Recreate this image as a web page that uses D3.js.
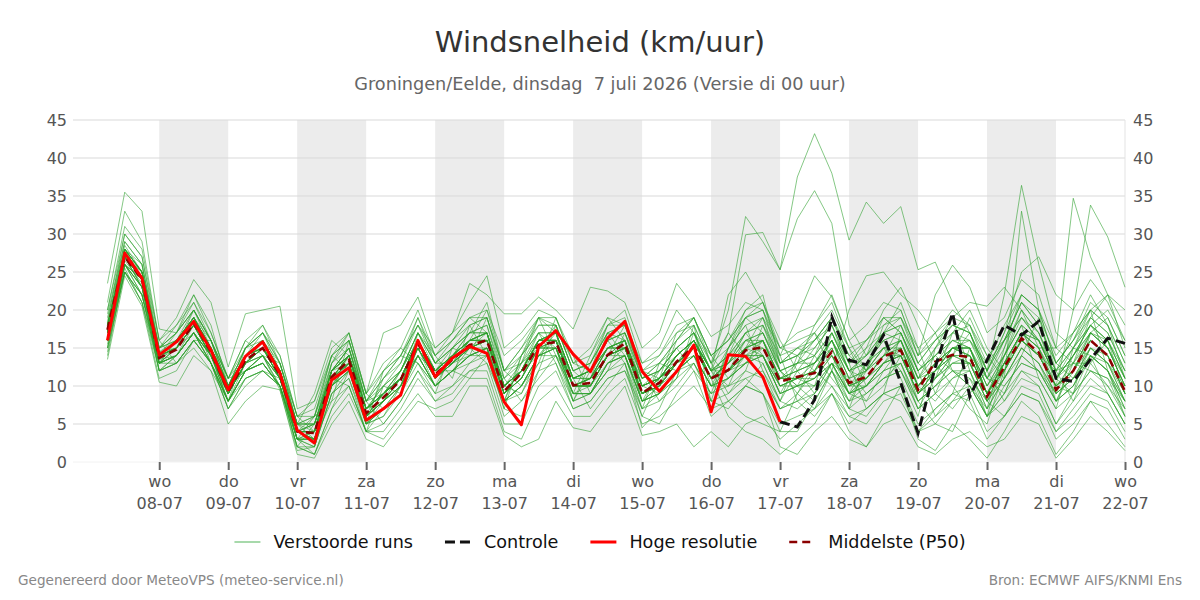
<!DOCTYPE html>
<html><head><meta charset="utf-8">
<script src="https://cdn.jsdelivr.net/npm/d3@7"></script>
<style>
body{margin:0;background:#fff;}
svg{display:block;font-family:"DejaVu Sans",sans-serif;}
</style>
</head><body>
<svg id="chart" width="1200" height="600"></svg>
<script>
// ---------- DATA ----------
// 6-hourly steps starting 07-07-2026 06:00 UTC (60 steps, last = 22-07 00:00)
const startTime = "2026-07-07T06:00:00Z";
const stepHours = 6;

// Perturbed ensemble members ("Verstoorde runs"), km/h
const members = [
 [19.5,29,26,14,16,20,15,10,14,16, 12,5,4,12,14,7,9,12,17,12, 14,17,18,10,12,16,17,11,12,16, 17,11,12,15,17,13,20,32.3,29,25.3, 37.5,43.2,38,29.2,34.2,31.4,33.6,25.3,26.3,21, 17,11,16,21,18,13,16,19,17,12],
 [18,28,25,14,15,19,15,9.5,13,15, 12,4,5,12,14,6,9,11,16,12, 14,16,17,9,12,16,16,10,11,15, 16,10,11,14,16,12,17,29.9,30.2,25.3, 32,35.7,31.4,18,14,17,16,10,13,15, 15,9,13,17,16,11,13,17,15,10],
 [16,26,23,13,15,18,14,9,13,14, 11,3,4,10,13,6,8,10,15,11, 13,15,15,9,11,15,15,10,10,14, 15,9,10,13,15,11,12,15,16,11, 12,13,16,12,13,15,16,11,15,17, 16,12,22,36.4,26,17,15,14,12,8],
 [17,27,24,14,15,18,15,9,14,15, 12,4,4,11,14,7,9,11,16,12, 14,16,16,10,12,16,16,10,11,14, 16,9,11,13,15,11,12,14,15,10, 11,12,15,10,12,14,15,10,12,15, 14,9,13,17,15,15,34.7,27,22,18],
 [15,25,22,12,13,16,13,8,12,13, 10,2,2,9,11,5,6,9,13,10, 12,13,14,8,9,13,14,8,9,12, 13,7,9,11,13,9,10,12,11,7, 8,6,9,5,7,9,8,4,6,8, 9,4,6,9,8,3,5,8,7,3],
 [21,33,29,16,18,22,17,11,16,18, 14,6,7,14,16,8,12,14,19,14, 16,19,20,12,14,19,18,12,13,18, 19,12,13,16,19,14,16,20,21,15, 17,18,22,16,18,21,20,14,17,19, 18,12,17,22,20,13,16,21,19,14],
 [17.5,27,24,13,15,18,14,9,13,15, 11,4,3,11,13,6,8,11,15,11, 13,15,16,9,11,15,16,10,10,14, 15,9,10,13,15,11,12,15,14,10, 11,11,14,9,11,13,14,9,11,14, 13,8,12,16,14,10,20,33.8,29.6,23],
 [14,25.5,21,11,12,16,13,7,11,12, 10,2,1,7,10,4,5,8,12,9, 10,12,13,6,8,12,13,7,8,11, 12,7,8,10,13,8,9,11,12,7, 8,9,12,8,9,11,12,7,9,11, 12,7,11,33,20,9,11,14,12,7],
 [23.5,35.5,33,17.5,17,21,16,11,15,17, 12,4,6,12,15,7,10,12,16,12, 15,17,17,10,12,16,17,11,12,15, 16,10,11,14,16,12,13,16,17,12, 13,14,17,12,14,16,17,12,14,16, 16,11,14,19,16,11,14,18,16,11],
 [13.5,24.5,20.5,10.5,10,14,12,5,8,10, 9.5,1,0.5,5,8,3,2,5,8,7, 8,11,11,4,3,8,10,6,6,9, 11,5,6,8,10,7,8,10,9,5, 6,7,9,6,7,9,10,5,7,9, 10,6,8,11,10,5,8,11,9,5],
 [16.5,28,25,14.5,16,19,15,10,14,16, 13,5,5,13,16,8,11,13,18,13, 15,18,19,11,14,18,18,12,13,17, 18,11,13,16,18,13,15,18,19,13, 14,15,18,13,14,17,18,12,15,18, 17,11,15,20,17,12,15,19,17,12],
 [20,31,28,16,19,24,21,12.5,19.5,20, 20.5,7,8,15,17,9,13,15,20,14, 16,18,19,12,15,18,18,12,13,17, 18,11,12,15,17,12,14,17,18,12, 13,14,17,12,13,16,17,12,14,16, 15,10,14,18,16,11,14,17,15,10],
 [18,27,24,15,17,20,16,10,14,16, 12,5,6,13,17,9,17,18,21.7,15, 17,21,24.5,15,17,20,19,13,15,19, 18,12,14,17,19,14,16,19,20,14, 15,16,19,14,16,18,19,13,16,18, 17,12,16,21,18,13,16,20,18,13],
 [17,26,23,13,14,17,14,9,13,14, 11,3,2,10,12,5,7,9,14,10, 12,14,15,8,10,14,15,9,9,13, 14,8,9,12,14,10,11,13,14,9, 10,10,13,9,10,12,13,8,10,12, 12,7,11,15,13,9,11,15,13,8],
 [17,27,24,13,15,18,14,9,14,15, 11,3,3,11,13,6,8,10,15,11, 13,16,16,9,11,15,16,10,10,14, 15,9,10,13,15,11,6,4,3,1, 3,5,9,4,2,6,10,3,1.5,5, 3,0.5,4,8,6,1,4,8,5,2],
 [17,28,24,14,15,18,15,9,13,15, 11,4,4,11,14,6,8,11,16,11, 14,15,16,10,12,16,16,10,11,14, 16,9,11,13,15,11,12,15,16,10, 11,12,15,10,11,14,15,10,12,14, 14,9,12,16,14,10,12,16,14,9],
 [18,27.5,25,14,16,19,15,10,14,15, 12,4,4,12,14,7,9,11,16,12, 14,16,17,10,12,17,17,11,12,16, 17,10,12,15,17,12,22,25,21,14, 19,24.5,21.7,16,12,18,20,14,22,25.9, 23,17,19,24,22,15,13,12,10,7],
 [16,26,22,13,14,17,13,8,12,14, 10,3,3,10,12,5,7,10,14,10, 12,14,15,8,10,14,15,9,10,13, 14,8,9,12,14,10,11,14,14,9, 10,11,13,9,10,13,14,9,11,13, 13,8,11,15,13,9,11,15,13,8],
 [15,25,22,12,13,16,13,7,11,12, 10,2,1,6,9,4,3,6,9,6, 6,10,10,3.5,2,3,8,4.5,4,7, 10,3.5,4,5,2,4,2,5,6,3, 5,7,10,6,5,8,9,4,7,9, 8,3,6,10,9,4,6,9,8,4],
 [17,27,24,14,16,19,15,10,15,17, 13,5,6,14,16,8,11,14,18,15, 17,23.5,22,19.5,19.5,21.7,20,17.5,23,22.5, 21,15,17,23.5,20.5,16.5,18,21,20,15, 16,17,20,15,16,19,19,14,16,18, 17,12,16,19,17,12,15,18,16,11],
 [16,27,23,13,14,17,14,8,12,14, 11,4,3,10,13,6,9,11,15,11, 13,15,16,9,12,16,16,10,11,15, 15,9,10,13,16,11,13,15,16,11, 12,13,16,10,11,14,16,11,13,15, 15,9,13,17,14,10,12,16,14,9],
 [18,28,25,14,16,19,15,10,14,16, 12,4,5,12,14,7,9,11,16,12, 14,16,17,10,12,16,16,10,11,15, 16,10,11,14,16,12,8,6,5,4, 9,13,16,11,8,12,15,8,5,4, 9,12,17,25,27,22,20,24,21,16],
 [17,26.5,23.5,13.5,15,18,14,9,13,15, 11,4,4,11,13,6,8,10,15,11, 13,15,16,9,11,15,15,10,10,14, 15,9,10,13,15,11,13,17,19,15, 14,12,10,7,9,11,12,8,10,13, 14,11,10,13,12,8,10,14,13,9],
 [17,27,24,14,15,18,14,9,13,15, 11,4,4,11,13,6,9,11,15,11, 13,16,16,9,12,16,16,10,10,14, 15,9,10,14,16,11,15,19,17,12, 9,7,12,20,24.5,25,22,20,17,12, 10,6,9,14,12,8,12,17,16,12],
 [17,28,25,14,16,19,15,10,14,16, 12,4,4,12,14,7,9,11,16,12, 14,16,17,10,12,16,17,11,11,15, 16,10,11,14,16,11,12,14,13,8, 7,9,13,8,10,13,14,9,12,15, 16,13,18,22,20,15,17,20,18,13],
 [16,26,23,13,14,17,14,8,12,14, 11,3,3,10,12,6,8,10,14,10, 12,14,15,8,10,14,15,9,9,13, 14,8,9,12,14,10,10,11,9,2, 1,4,6,3,2,5,6,2,1,3, 4,2,3,6,5,0.5,3,6,4,1.5],
 [18,29,26,15,17,20,16,10,15,16, 12,5,5,12,15,7,10,12,17,13, 15,17,18,11,13,17,17,11,12,16, 17,11,12,15,17,12,14,16,15,11, 13,16,19,14,12,15,14,10,13,16, 15,10,14,18,16,11,15,18,16,11],
 [16,25,22,13,14,17,14,8,12,13, 10,3,2,9,12,5,7,9,14,10, 12,14,14,8,10,14,14,9,9,12, 14,8,9,12,14,10,12,15,17,13, 15,17,14,10,13,17,19,15,17,20, 18,13,16,21,19,14,17,20,22,20],
 [17,27,24,14,16,18,15,9,14,15, 11,4,4,11,14,6,8,11,16,11, 13,15,16,9,11,16,16,10,11,14, 15,9,10,13,15,11,12,13,14,10, 10,11,13,9,10,12,13,8,10,12, 11,6,9,12,11,7,9,12,11,6],
 [18,28,25,14,16,19,15,10,14,16, 12,4,5,12,14,7,9,12,16,12, 14,16,17,10,12,16,17,11,12,15, 16,10,11,14,16,12,14,17,18,13, 14,16,19,13,15,17,18,13,16,19, 21,20.5,23,20,15,10,9,12,11,8],
 [15.5,26,24,12,14,17,13,8,15,17, 13,6,8,14,12,6,11,14,13,9, 15,14,19,12,10,13,19,14,9,12, 17,12,8,11,18,13,9,12,18,14, 8,10,17,13,7,9,17,12,6,9, 15,11,9,14,19,12,8,13,16,9],
 [18.5,30,27,16,13,16,16,11,12,13, 10,3,6,8,16,9,7,9,17,14, 11,18,14,7,14,17,13,8,13,17, 14,7,13,15,12,9,15,18,12,8, 14,17,12,7,13,16,11,6,15,19, 12,6,14,18,11,7,15,20,12,6],
 [17,27,23,15,18,21,17,11,16,14, 9.5,1.5,2,9,11,4,10,13,19,13, 16,19,17,8,13,19,17,8,12,18, 20,13,15,20,17,10,14,19,21,16, 12,9,13,11,15,20,23,18,13,10, 7,5,12,17,15,8,10,15,13,10],
 [16,25,21,13,16,19,13,7,10,12, 10,4,3,13,15,8,5,8,12,8, 10,13,15,11,8,11,14,11,7,10, 13,6,11,17,18,8,7,10,13,8, 12,15,18,12,9,11,13,7,9,14, 17,12,8,12,10,5,9,17,19,14],
 [19,28.5,25,14,17,22,18,10,12,14, 13,5,9,16,14,5,12,15,13,10, 14,16,20,14,16,19,14,9,14,19, 16,8,12,14,16,12,10,15,19,12, 10,14,19,15,12,14,18,13,11,14, 19,14,11,15,13,8,13,19,22,15],
 [15,26,24,13,13,15,12,8,13,16, 12,3,1,7,12,7,9,11,14,12, 12,11,14,7,6,12,18,13,12,16, 13,4.5,7,12,15,11,13,17,14,9, 13,18,21,15,10,13,16,10,8,11, 13,9,14,20,17,11,9,14,12,7],
 [17.5,28,24,14,15,20,16,9,14,17, 14,6,4,12,15,7,8,12,17,13, 15,17,21,12,13,15,18,12,10,14, 18,12,11,13,14,8,15,20,22,13, 15,14,11,8,12,17,21,15,9,7, 10,7,15,22,20,13,11,14,9,5],
 [16,27,25,15,16,18,14,10,12,13, 10,2,5,11,10,4,7,10,16,11, 14,15,13,8,14,17,15,8,9,13, 15,10,9,11,17,14,11,13,16,12, 10,8,12,9,13,15,12,7,11,17, 20,15,12,16,14,12,17,22,18,11],
 [18,26,22,13,14,18,15,10,14,16, 11,4,3,10,14,8,10,9,15,10, 12,15,17,10,12,14,17,10,11,17, 16,8,10,16,19,13,17,14,11,7, 9,12,16,12,14,19,17,11,14,12, 10,6,10,13,12,9,14,18,20,16],
 [17,28,26,14.5,15,17,13,9,13,14, 10,3,4,12,13,5,6,10,16,12, 13,16,16,10,9,14,16,11,12,15, 15,11,13,12,13,9,11,13,15,11, 11,13,15,9,8,10,14,9,12,15, 15,10,13,17,16,12,13,13,10,6],
 [16,26,23,12,14,17,13,8,11,12, 11,4,3,8,10,4,4,7,11,8, 9,12,12,5,5,10,12,7,8,11, 12,6,5,9,12,6,8,10,9,4, 4,8,12,7,6,9,10,4,5,8, 11,8,6,9,8,4,7,10,9,5],
 [18,28,25,15,17,20,16,10,15,18, 13,6,6,14,17,9,12,14,18,14, 17,19,19,12,15,19,19,13,14,18, 18,13,14,18,19,14,16,19,20,13, 14,16,18,13,16,19,17,12,14,17, 18,14,16,19,16,11,14,17,15,10],
 [17,27,24,13.5,14,17,14,9,13,15, 12,5,3,11,14,6,9,12,17,13, 13,14,15,9,11,15,16,10,10,14, 14,9,10,13,15,11,12,16,17,12, 13,13,17,12,11,13,15,10,13,15, 14,9,12,16,14,10,12,16,14,9],
 [16.5,27,23,14,15,18,14,9,14,15, 11,4,4,11,13,6,8,11,15,11, 13,15,16,9,12,15,15,10,10,14, 15,9,11,13,15,11,12,14,14,10, 11,12,14,10,11,14,14,9,12,14, 14,9,12,16,14,10,12,15,14,9],
 [20,30,27,15,16,19,16,11,14,15, 12,5,5,12,15,8,9,11,16,12, 14,17,17,10,13,16,16,11,11,15, 15,10,11,14,16,12,12,14,16,11, 11,10,13,9,11,14,16,11,12,14, 13,8,13,17,15,11,14,18,15,11],
 [14.5,25,21,12,13,16,13,8,12,13, 10,3,3,10,12,5,8,10,14,10, 12,14,15,8,10,14,15,9,9,13, 14,8,10,12,14,10,11,13,14,9, 10,11,14,10,10,13,14,9,11,13, 13,8,11,14,12,8,10,14,12,8],
 [17,27,24,14,15,18,15,9,13,15, 11,4,4,11,14,7,9,11,16,12, 14,16,16,10,12,16,16,10,11,14, 15,9,11,13,16,11,13,16,16,11, 11,12,16,11,12,15,16,10,13,15, 14,9,13,17,15,10,12,17,15,10],
 [18,27,25,14,16,19,15,10,14,16, 12,4,4,12,14,7,9,11,16,12, 14,16,17,10,12,16,17,11,12,15, 16,10,11,14,16,12,13,15,16,11, 12,13,16,11,12,15,15,10,12,15, 15,9,13,16,14,10,13,16,14,9]
];

// Median (P50)
const median = [17.4,27,24,13.7,14.8,18.3,14.5,9.3,13.4,15, 11.5,4,3.8,11.2,13.4,6.4,8.5,10.8,15.6,11.5,
 13.5,15.4,16,9.3,11.7,15.4,15.8,10.1,10.4,14.1, 15.6,9.1,10.4,13.2,15.2,11,12.1,14.7,15.1,10.6,
 11.2,11.7,14.5,10.4,11.2,13.9,14.7,9.5,13.2,14.1, 13.8,8.6,12.5,16.3,14.4,9.5,12,16,14,9.3];

// High resolution run (Hoge resolutie), first 40 steps
const hres = [16,27.5,24.2,14.1,15.8,18.5,14.7,9.5,13.9,15.8, 11.7,4.2,2.5,10.8,12.4,5.5,7.0,8.8,16,11.2,
 13.7,15.2,14.3,7.9,4.9,15.2,17.3,14.2,11.9,16.3, 18.5,11.9,9.3,11.9,15.4,6.6,14.1,13.9,11.2,5.3];

// Control run (Controle), visible from step 39 onwards
const controleStartStep = 39;
const controle = [5.3,4.6,8.2,19.1,13.4,12.8,16.7,10.4,3.8,12.5, 19.6,8.6,13.4,18,16.7,18.5,11,10.6,13.5,16.3,15.6];

const yTicks = [0,5,10,15,20,25,30,35,40,45];
const tickDates = ["2026-07-08","2026-07-09","2026-07-10","2026-07-11","2026-07-12","2026-07-13","2026-07-14","2026-07-15",
 "2026-07-16","2026-07-17","2026-07-18","2026-07-19","2026-07-20","2026-07-21","2026-07-22"];
const dayLabels = ["wo","do","vr","za","zo","ma","di","wo","do","vr","za","zo","ma","di","wo"];
const dateLabels = ["08-07","09-07","10-07","11-07","12-07","13-07","14-07","15-07","16-07","17-07","18-07","19-07","20-07","21-07","22-07"];
const shadedDays = ["2026-07-08","2026-07-10","2026-07-12","2026-07-14","2026-07-16","2026-07-18","2026-07-20"];
const xDomain = ["2026-07-06T18:00:00Z","2026-07-22T00:00:00Z"];

const title = "Windsnelheid (km/uur)";
const subtitle = "Groningen/Eelde, dinsdag\u00a0 7 juli 2026 (Versie di 00 uur)";
const footerLeft = "Gegenereerd door MeteoVPS (meteo-service.nl)";
const footerRight = "Bron: ECMWF AIFS/KNMI Ens";
const legendItems = [
 {label:"Verstoorde runs", key:"ens"},
 {label:"Controle", key:"ctrl"},
 {label:"Hoge resolutie", key:"hres"},
 {label:"Middelste (P50)", key:"p50"}
];

// ---------- CHART ----------
(function() {
const svg = d3.select("#chart");
const W = 1200, H = 600;
const pLeft = 73, pRight = 1125, pTop = 120, pBottom = 462;

const parse = s => new Date(s.length === 10 ? s + "T00:00:00Z" : s);
const t0 = parse(startTime).getTime();
const timeAt = i => new Date(t0 + i * stepHours * 3600e3);

const x = d3.scaleUtc().domain(xDomain.map(parse)).range([pLeft, pRight]);
const y = d3.scaleLinear().domain([0, 45]).range([pBottom, pTop]);

svg.append("rect").attr("width", W).attr("height", H).attr("fill", "#fff");

// shaded alternate days
svg.append("g").selectAll("rect").data(shadedDays).join("rect")
  .attr("x", d => x(parse(d)))
  .attr("width", d => x(d3.utcDay.offset(parse(d), 1)) - x(parse(d)))
  .attr("y", pTop).attr("height", pBottom - pTop)
  .attr("fill", "#ececec");

// grid lines
svg.append("g").selectAll("line").data(yTicks).join("line")
  .attr("x1", pLeft).attr("x2", pRight)
  .attr("y1", d => y(d)).attr("y2", d => y(d))
  .attr("stroke", d => d === 0 ? "#f2f2f2" : "#d9d9d9").attr("stroke-width", 1);
svg.append("line").attr("x1", pRight).attr("x2", pRight).attr("y1", pTop).attr("y2", pBottom)
  .attr("stroke", "#e3e3e3");

// axes
const yl = svg.append("g").attr("transform", `translate(${pLeft},0)`)
  .call(d3.axisLeft(y).tickValues(yTicks).tickSize(0).tickPadding(6));
const yr = svg.append("g").attr("transform", `translate(${pRight},0)`)
  .call(d3.axisRight(y).tickValues(yTicks).tickSize(0).tickPadding(8));
[yl, yr].forEach(g => {
  g.select(".domain").remove();
  g.selectAll("text").attr("font-size", 16).attr("fill", "#555").attr("font-family", "DejaVu Sans");
});

const xa = svg.append("g").attr("transform", `translate(0,${pBottom})`)
  .call(d3.axisBottom(x).tickValues(tickDates.map(parse)).tickSize(8).tickPadding(4).tickFormat(() => ""));
xa.select(".domain").remove();
xa.selectAll(".tick line").attr("stroke", "#666").attr("stroke-width", 2);
xa.selectAll(".tick text").each(function(d, i) {
  const t = d3.select(this).attr("y", null).attr("dy", null)
    .attr("font-size", 16).attr("fill", "#555").attr("font-family", "DejaVu Sans");
  t.append("tspan").attr("x", 0).attr("y", 25).text(dayLabels[i]);
  t.append("tspan").attr("x", 0).attr("y", 47).text(dateLabels[i]);
});

// lines
const line = d3.line().x(d => x(d.t)).y(d => y(d.v));
const series = (arr, offset = 0) => arr.map((v, i) => ({t: timeAt(i + offset), v}));

const plot = svg.append("g");
plot.selectAll("path.member").data(members).join("path")
  .attr("class", "member")
  .attr("d", d => line(series(d)))
  .attr("fill", "none").attr("stroke", "#2ca02c").attr("stroke-opacity", 0.58).attr("stroke-width", 1);

plot.append("path").attr("d", line(series(median)))
  .attr("fill", "none").attr("stroke", "#8b0000").attr("stroke-width", 2.6)
  .attr("stroke-dasharray", "8,5");

plot.append("path").attr("d", line(series(controle, controleStartStep)))
  .attr("fill", "none").attr("stroke", "#111").attr("stroke-width", 3)
  .attr("stroke-dasharray", "10,5");

plot.append("path").attr("d", line(series(hres)))
  .attr("fill", "none").attr("stroke", "#ff0000").attr("stroke-width", 3)
  .attr("stroke-linejoin", "round");

// titles
svg.append("text").attr("x", 600).attr("y", 52).attr("text-anchor", "middle")
  .attr("font-size", 29).attr("fill", "#333").text(title);
svg.append("text").attr("x", 600).attr("y", 90).attr("text-anchor", "middle")
  .attr("font-size", 17.7).attr("fill", "#666").text(subtitle);

// legend
const lg = svg.append("g");
const sampleW = 26, gap = 13, spacing = 32, ly = 542;
const items = lg.selectAll("g").data(legendItems).join("g");
items.append("text").attr("font-size", 17.6).attr("fill", "#111")
  .attr("dominant-baseline", "central").attr("y", ly).text(d => d.label);
const widths = [];
items.select("text").each(function() { widths.push(this.getComputedTextLength()); });
const total = d3.sum(widths) + legendItems.length * (sampleW + gap) + (legendItems.length - 1) * spacing;
let cx = 600 - total / 2;
const styleMap = {
  ens: {stroke: "#6cbf73", w: 1.2, dash: null},
  ctrl: {stroke: "#111", w: 3, dash: "10,5"},
  hres: {stroke: "#ff0000", w: 3, dash: null},
  p50: {stroke: "#8b0000", w: 2.6, dash: "8,5"}
};
items.each(function(d, i) {
  const g = d3.select(this);
  const st = styleMap[d.key];
  g.append("line").attr("x1", cx).attr("x2", cx + sampleW).attr("y1", ly).attr("y2", ly)
    .attr("stroke", st.stroke).attr("stroke-width", st.w)
    .attr("stroke-dasharray", st.dash);
  g.select("text").attr("x", cx + sampleW + gap);
  cx += sampleW + gap + widths[i] + spacing;
});

// footer
svg.append("text").attr("x", 18).attr("y", 585).attr("font-size", 13.6).attr("fill", "#888").text(footerLeft);
svg.append("text").attr("x", 1182).attr("y", 585).attr("text-anchor", "end")
  .attr("font-size", 13.6).attr("fill", "#888").text(footerRight);
})();
</script>
</body></html>
